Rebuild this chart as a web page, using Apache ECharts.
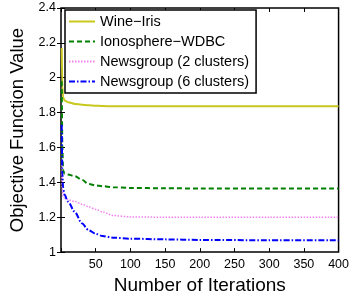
<!DOCTYPE html>
<html>
<head>
<meta charset="utf-8">
<script src="https://cdn.jsdelivr.net/npm/echarts@6/dist/echarts.min.js"></script>
<style>
  html, body { margin: 0; padding: 0; background: #fff; }
  #main { width: 352px; height: 300px; }
</style>
</head>
<body>
<div id="main"></div>
<script>
// iterations (x) shared by every curve
var iters = [1, 2, 3, 5, 10, 20, 30, 40, 50, 60, 75, 100, 150, 200, 300, 400];

var wineIris = [2.17, 1.95, 1.89, 1.87, 1.86, 1.85, 1.845, 1.842, 1.84, 1.838, 1.836, 1.836, 1.836, 1.836, 1.836, 1.836];
var ionoWdbc = [1.98, 1.6, 1.47, 1.45, 1.445, 1.435, 1.415, 1.39, 1.383, 1.378, 1.372, 1.368, 1.366, 1.365, 1.365, 1.365];
var news2 = [1.5, 1.36, 1.32, 1.31, 1.30, 1.29, 1.275, 1.26, 1.245, 1.23, 1.21, 1.202, 1.20, 1.20, 1.20, 1.20];
var news6 = [1.73, 1.45, 1.37, 1.33, 1.29, 1.23, 1.165, 1.125, 1.105, 1.092, 1.083, 1.077, 1.073, 1.07, 1.068, 1.068];

var names = ['Wine\u2212Iris', 'Ionosphere\u2212WDBC', 'Newsgroup (2 clusters)', 'Newsgroup (6 clusters)'];

function pairs(ys) {
  return iters.map(function (x, i) { return [x, ys[i]]; });
}

var chart = echarts.init(document.getElementById('main'));
var font = 'Liberation Sans, Arial, sans-serif';

var option = {
  animation: false,
  textStyle: { fontFamily: font },
  grid: {
    left: 61, right: 13, top: 8, bottom: 37,
    show: true, borderColor: '#000', borderWidth: 1.5, backgroundColor: 'transparent'
  },
  legend: {
    orient: 'vertical',
    left: 65, top: 10,
    padding: [4, 7, 4, 3],
    itemGap: 5,
    itemWidth: 26, itemHeight: 14,
    borderColor: '#000', borderWidth: 1.5,
    backgroundColor: '#fff',
    itemStyle: { opacity: 0 },
    textStyle: { fontSize: 14.5, color: '#000', fontFamily: font },
    data: names
  },
  xAxis: [{
    type: 'value', min: 0, max: 400, interval: 50,
    name: 'Number of Iterations', nameLocation: 'middle', nameGap: 22,
    nameTextStyle: { fontSize: 19, color: '#000' },
    axisLine: { show: false },
    axisTick: { inside: true, length: 4, lineStyle: { color: '#000' } },
    axisLabel: {
      fontSize: 12.5, color: '#000', margin: 6,
      formatter: function (v) { return v === 0 ? '' : v; }
    },
    splitLine: { show: false }
  }, {
    type: 'value', min: 0, max: 400, interval: 50, position: 'top',
    axisLine: { show: false },
    axisTick: { inside: true, length: 4, lineStyle: { color: '#000' } },
    axisLabel: { show: false },
    splitLine: { show: false }
  }],
  yAxis: [{
    type: 'value', min: 1, max: 2.4, interval: 0.2,
    name: 'Objective Function Value', nameLocation: 'middle', nameGap: 26,
    nameTextStyle: { fontSize: 18.5, color: '#000' },
    axisLine: { show: false },
    axisTick: { show: true, inside: true, length: 4, lineStyle: { color: '#000' } },
    axisLabel: { fontSize: 12.5, color: '#000', margin: 5 },
    splitLine: { show: false }
  }, {
    type: 'value', min: 1, max: 2.4, interval: 0.2, position: 'right',
    axisLine: { show: false },
    axisTick: { show: true, inside: true, length: 4, lineStyle: { color: '#000' } },
    axisLabel: { show: false },
    splitLine: { show: false }
  }],
  series: [{
    name: names[0], type: 'line', symbol: 'none', smooth: 0.3, smoothMonotone: 'x',
    data: pairs(wineIris),
    lineStyle: { color: '#c8c81e', width: 2, type: 'solid' },
    itemStyle: { color: '#c8c81e' }
  }, {
    name: names[1], type: 'line', symbol: 'none', smooth: 0.3, smoothMonotone: 'x',
    data: pairs(ionoWdbc),
    lineStyle: { color: '#008000', width: 2, type: [5, 3] },
    itemStyle: { color: '#008000' }
  }, {
    name: names[2], type: 'line', symbol: 'none', smooth: 0.3, smoothMonotone: 'x',
    data: pairs(news2),
    lineStyle: { color: '#ee82ee', width: 1.5, type: [1.5, 1.5] },
    itemStyle: { color: '#ee82ee' }
  }, {
    name: names[3], type: 'line', symbol: 'none', smooth: 0.3, smoothMonotone: 'x',
    data: pairs(news6),
    lineStyle: { color: '#0000ff', width: 2, type: [6, 2, 1.5, 2] },
    itemStyle: { color: '#0000ff' }
  }]
};

chart.setOption(option);
</script>
</body>
</html>
